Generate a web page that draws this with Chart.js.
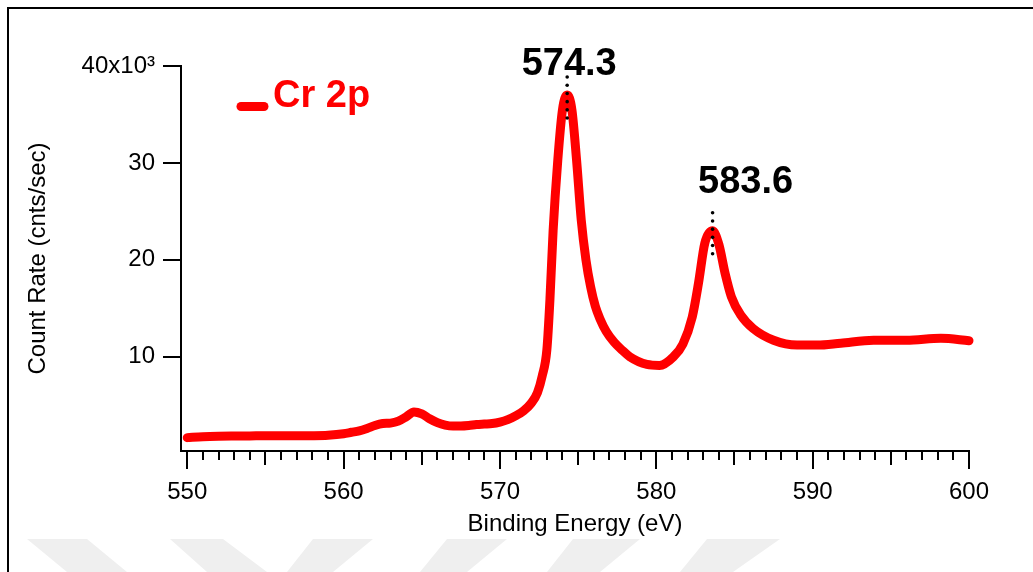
<!DOCTYPE html>
<html>
<head>
<meta charset="utf-8">
<script src="https://cdn.jsdelivr.net/npm/chart.js@4.4.1/dist/chart.umd.min.js"></script>
<style>
    html, body { margin: 0; padding: 0; background: #fff; }
    .wrap { position: relative; width: 1033px; height: 572px; }
</style>
</head>
<body>
<div class="wrap"><canvas id="xpsChart"></canvas></div>
<script>
// binding energy (eV) and count rate (x10^3 cnts/sec)
const energies = [550, 551, 552, 553, 554, 555, 556, 557, 558, 559,
    560, 560.5, 561, 561.5, 562, 562.5, 563, 563.5, 564, 564.5, 565, 565.5, 566, 566.5,
    567, 567.5, 568, 568.5, 569, 569.5, 570, 570.5, 571, 571.5, 572,
    572.4, 572.7, 573, 573.2, 573.4, 573.7,
    574.0, 574.3, 574.6, 574.9, 575.2, 575.5, 575.8, 576.1, 576.4, 576.8,
    577.3, 577.8, 578.3, 579.4, 580.2, 581.1, 581.7, 582.3, 582.7, 583.1, 583.6,
    584.0, 584.4, 584.8, 585.4, 586.2, 587.5, 589.0, 590.3, 591.8, 593.9, 596.0, 598.2, 600];
const counts = [1.65, 1.75, 1.8, 1.82, 1.83, 1.85, 1.85, 1.84, 1.85, 1.9,
    2.05, 2.2, 2.35, 2.6, 2.9, 3.1, 3.15, 3.35, 3.8, 4.3, 4.1, 3.6, 3.2, 2.95,
    2.85, 2.85, 2.9, 3.0, 3.05, 3.1, 3.25, 3.5, 3.9, 4.4, 5.2,
    6.3, 8.0, 10.7, 16.0, 23.0, 30.3,
    35.5, 37.0, 35.5, 30.3, 24.1, 20.0, 17.2, 15.2, 13.9, 12.6,
    11.5, 10.7, 10.0, 9.2, 9.1, 10.0, 11.3, 14.1, 17.6, 21.7, 23.0,
    21.6, 18.6, 16.2, 14.3, 12.9, 11.7, 11.2, 11.2, 11.4, 11.7, 11.7, 11.9, 11.65];

const seriesName = 'Cr 2p';
const peakEnergies = [574.3, 583.6];
const peakLabels = ['574.3', '583.6'];

const xLabelTicks = [550, 560, 570, 580, 590, 600];
const xMinorTicks = [];
for (let v = 550; v <= 600; v++) xMinorTicks.push(v);
const yTickValues = [10, 20, 30, 40];
const yTickLabels = ['10', '20', '30', '40x10\u00B3'];

const FONT = "'Liberation Sans', Arial, Helvetica, sans-serif";
const RED = '#ff0000';

// faint watermark + outer frame, then ticks / legend / peak marks on top
const framePlugin = {
    id: 'frame',
    beforeDraw(chart) {
        const ctx = chart.ctx;
        ctx.save();
        ctx.fillStyle = '#efefef';
        const top = 539, bot = 572;
        const shapes = [
            [27, 87, 127, 67], [170, 223, 267, 207],
            [313, 373, 333, 287], [447, 507, 467, 420],
            [573, 640, 600, 547], [707, 780, 733, 680]
        ];
        shapes.forEach(s => {
            ctx.beginPath();
            ctx.moveTo(s[0], top); ctx.lineTo(s[1], top);
            ctx.lineTo(s[2], bot); ctx.lineTo(s[3], bot);
            ctx.closePath();
            ctx.fill();
        });
        ctx.strokeStyle = '#000';
        ctx.lineWidth = 2;
        ctx.beginPath();
        ctx.moveTo(8, 572); ctx.lineTo(8, 8); ctx.lineTo(1033, 8);
        ctx.stroke();
        ctx.restore();
    },
    afterDraw(chart) {
        const ctx = chart.ctx;
        const xs = chart.scales.x, ys = chart.scales.y;
        ctx.save();

        // x tick marks: long every 10, medium every 5, short every 1
        ctx.strokeStyle = '#000';
        ctx.lineWidth = 2;
        const y0 = ys.bottom;
        xMinorTicks.forEach(v => {
            const px = Math.round(xs.getPixelForValue(v));
            const len = v % 10 === 0 ? 18 : (v % 5 === 0 ? 14 : 9);
            ctx.beginPath();
            ctx.moveTo(px, y0);
            ctx.lineTo(px, y0 + len);
            ctx.stroke();
        });

        // legend
        ctx.strokeStyle = RED;
        ctx.lineWidth = 9;
        ctx.lineCap = 'round';
        ctx.beginPath();
        ctx.moveTo(241, 106.5);
        ctx.lineTo(264, 106.5);
        ctx.stroke();
        ctx.fillStyle = RED;
        ctx.font = 'bold 38px ' + FONT;
        ctx.textAlign = 'left';
        ctx.textBaseline = 'alphabetic';
        ctx.fillText(seriesName, 273, 107);

        // peak markers
        const labelOffsets = [{ dx: 2, dy: -20 }, { dx: 33, dy: -38 }];
        peakEnergies.forEach((e, i) => {
            const idx = energies.indexOf(e);
            const px = xs.getPixelForValue(e);
            const py = ys.getPixelForValue(counts[idx]);
            ctx.fillStyle = '#000';
            for (let k = 0; k < 6; k++) {
                ctx.beginPath();
                ctx.arc(px, py - 18 + k * 8.2, 1.8, 0, Math.PI * 2);
                ctx.fill();
            }
            ctx.font = 'bold 38px ' + FONT;
            ctx.textAlign = 'center';
            ctx.fillText(peakLabels[i], px + labelOffsets[i].dx, py + labelOffsets[i].dy);
        });
        ctx.restore();
    }
};

const ctx = document.getElementById('xpsChart').getContext('2d');
new Chart(ctx, {
    type: 'line',
    data: {
        datasets: [{
            label: seriesName,
            data: energies.map((e, i) => ({ x: e, y: counts[i] })),
            borderColor: RED,
            backgroundColor: RED,
            borderWidth: 9,
            borderJoinStyle: 'round',
            borderCapStyle: 'round',
            pointRadius: 0,
            cubicInterpolationMode: 'monotone',
            clip: false
        }]
    },
    options: {
        responsive: true,
        maintainAspectRatio: false,
        animation: false,
        layout: { padding: { left: 10, right: 64, top: 66, bottom: 0 } },
        plugins: { legend: { display: false }, tooltip: { enabled: false } },
        scales: {
            x: {
                type: 'linear',
                min: 549.6,
                max: 600,
                afterBuildTicks: s => { s.ticks = xLabelTicks.map(v => ({ value: v })); },
                afterFit: s => { s.height = 121; },
                grid: { display: false, drawTicks: false },
                border: { display: true, color: '#000', width: 2 },
                ticks: { color: '#000', font: { family: FONT, size: 24 }, padding: 27, maxRotation: 0, autoSkip: false },
                title: { display: true, text: 'Binding Energy (eV)', color: '#000', font: { family: FONT, size: 24 }, padding: { top: 0, bottom: 33 } }
            },
            y: {
                min: 0.27,
                max: 40,
                afterBuildTicks: s => { s.ticks = yTickValues.map(v => ({ value: v })); },
                afterFit: s => { s.width = 171; },
                grid: { display: true, drawOnChartArea: false, drawTicks: true, tickLength: 18, lineWidth: 2, color: '#000' },
                border: { display: true, color: '#000', width: 2 },
                ticks: {
                    color: '#000',
                    font: { family: FONT, size: 24 },
                    padding: 8,
                    callback: v => yTickLabels[yTickValues.indexOf(v)]
                },
                title: { display: true, text: 'Count Rate (cnts/sec)', color: '#000', font: { family: FONT, size: 24 }, padding: { top: 14, bottom: 0 } }
            }
        }
    },
    plugins: [framePlugin]
});
</script>
</body>
</html>
